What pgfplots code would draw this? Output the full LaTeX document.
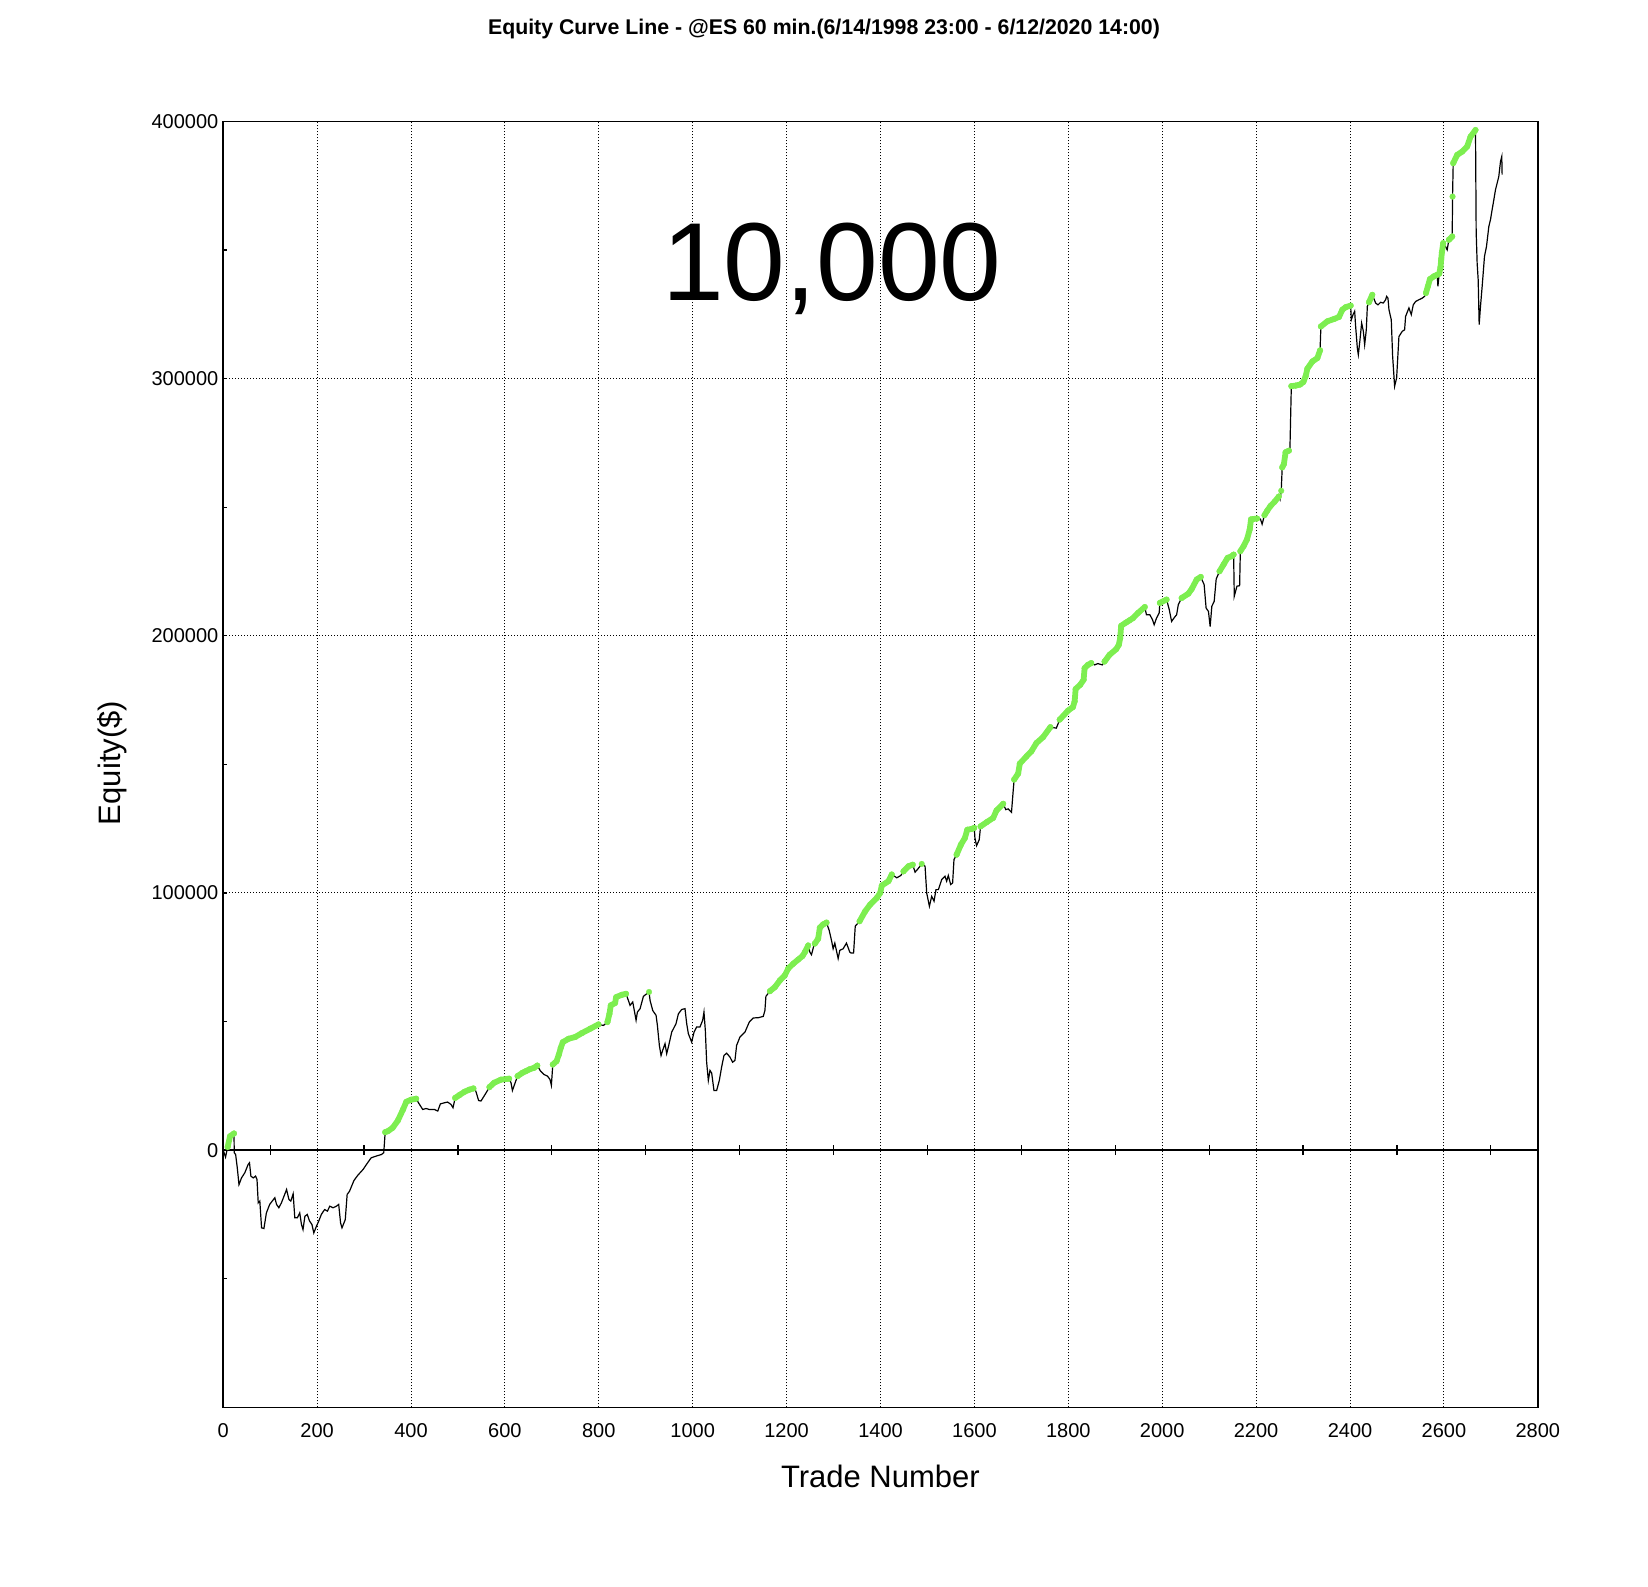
\documentclass[border=0pt]{standalone}
\usepackage{fontspec}
\setmainfont{Liberation Sans}
\usepackage{pgfplots}
\pgfplotsset{compat=1.18}
\definecolor{eqgreen}{RGB}{125,238,80}
\pgfplotsset{grn/.style={draw=eqgreen, color=eqgreen, solid, line width=2.9pt, line cap=round, line join=round,
  mark=*, mark size=1.45pt, mark options={solid, line width=0.1pt, draw=eqgreen, fill=eqgreen}}}
\begin{document}
\begin{tikzpicture}
\path[use as bounding box] (0,0) rectangle (824pt,793pt);
\begin{axis}[
  at={(111.6pt,89.35pt)}, anchor=south west,
  scale only axis, width=657.3pt, height=642.9pt,
  xmin=0, xmax=2800, ymin=-100000, ymax=400000,
  axis line style={line width=0.75pt},
  xtick={0,200,...,2800},
  xticklabels={0,200,400,600,800,1000,1200,1400,1600,1800,2000,2200,2400,2600,2800},
  ytick={-100000,0,100000,200000,300000,400000},
  yticklabels={,0,100000,200000,300000,400000},
  minor ytick={-50000,50000,150000,250000,350000},
  scaled ticks=false,
  xtick style={draw=none},
  ytick style={line width=0.6pt, black},
  ytick pos=left,
  major tick length=2pt, minor tick length=2pt,
  xmajorgrids, ymajorgrids,
  grid style={black, line width=0.5pt, dash pattern=on 0.5pt off 1pt},
  tick label style={font=\fontsize{10}{12}\selectfont},
  xticklabel style={anchor=base, yshift=-15pt},
  yticklabel style={anchor=east, inner sep=0pt, xshift=-2.25pt},
  clip=false,
]
\addplot[black, line width=0.6pt, mark=none] coordinates {
(0,0)(5,-2700)(9.5,1200)(14.5,5400)(23,6500)(23.5,-1000)(26.5,-1700)(30,-6900)(33.6,-13400)(39,-10800)
(46,-8800)(53,-5600)(56,-4900)(59,-10100)(64,-10800)(69,-10100)(72,-11400)(74.6,-20500)(78,-19800)(81.7,-30200)
(86.7,-30500)(92,-24400)(99,-21100)(110,-18500)(113.6,-21100)(118.5,-22400)(124,-20500)(135,-15300)(140,-19200)(144,-19800)
(149,-17000)(152.5,-26300)(158,-26300)(163,-24400)(166.7,-28900)(170,-30900)(174,-25700)(179,-25000)(184,-27600)(189,-28900)
(193,-32200)(198.5,-29600)(203.5,-27600)(209,-25000)(216,-23100)(222,-23700)(227,-21800)(234,-22400)(241,-21800)(246,-21100)
(250,-28300)(253,-30200)(260,-27000)(264,-17200)(269,-16000)(278.5,-11800)(287,-9700)(298,-7500)(305,-5600)(315,-3000)
(326,-2300)(337,-1700)(342,-1000)(345,7000)(351,7400)(361,8700)(372,11500)(383,15800)(390,18800)(400,19600)
(411,20000)(416,18400)(425,15800)(432,16200)(439,15800)(450,15800)(457,15200)(462.6,18000)(471,18400)(478,18700)
(485,17800)(489.5,16500)(494,20300)(503,21400)(514,22700)(524,23500)(533,24000)(538,23000)(544,19300)(549,19100)
(552.5,20100)(560,22300)(567,24500)(577,26200)(591.5,27400)(609,27800)(613,26200)(616,23200)(623,26800)(627,28800)
(637.5,30100)(644.6,30700)(652,31400)(662,32000)(669,32900)(676,30700)(683.5,29400)(690.6,28800)(696,27500)(699,25200)
(702,33300)(710,34600)(715,37200)(719,39800)(723.4,42000)(735.5,43300)(749.7,44000)(763.8,45500)(781.6,47200)(799.3,48900)
(810,48500)(818.4,49800)(822.7,53000)(825.5,56300)(834.7,57200)(836.9,59500)(849,60400)(858,60800)(863,58200)(866.6,56300)
(872.3,57600)(879.4,50500)(882.2,53700)(887.9,55000)(895,59800)(902,60800)(907,61500)(909.2,58200)(914.9,54300)(922,52400)
(924.8,48500)(929,40700)(932.6,36800)(936,38800)(941,41400)(944.6,37500)(948.9,40700)(955.3,45900)(964.5,49200)(969.5,53000)
(976.5,54700)(983.6,55000)(987.2,49200)(990.7,45300)(997.8,42000)(1002.8,45900)(1008.4,47900)(1015.5,47900)(1021.2,50500)(1024,53700)
(1026.9,46600)(1029.7,34200)(1033.3,27100)(1036.8,31000)(1040.4,30000)(1045.3,23200)(1051,23200)(1056.7,27100)(1061.6,32300)(1066.6,36800)
(1072.3,37700)(1079.3,36200)(1085,34200)(1090,34900)(1093.5,40700)(1100.6,44000)(1111.3,45900)(1120.5,49800)(1129,51400)(1139.6,51500)
(1150.2,52000)(1153.8,54300)(1155.9,59800)(1164.4,61800)(1175,63400)(1185.7,66000)(1196.3,68000)(1203.4,70600)(1214.1,72500)(1224.7,74100)
(1233.9,75500)(1238.9,77000)(1246,79600)(1249.5,77000)(1253,76000)(1258,79500)(1260.1,80300)(1267.2,82200)(1270.8,86500)(1277.9,87800)
(1285,88500)(1290.6,85500)(1295.6,81600)(1299.1,78300)(1302.7,80500)(1309.8,74500)(1313.3,77700)(1320.4,78300)(1327.5,80500)(1334.6,77000)
(1337,76700)(1342.7,76700)(1346.2,87100)(1355.4,89000)(1367.4,92900)(1378,95500)(1392.2,98100)(1399.3,100000)(1402.8,102900)(1417,104600)
(1424,107200)(1434.7,105900)(1443.2,106800)(1448.9,108400)(1459.5,110400)(1468.7,111000)(1473.6,108100)(1478.6,109100)(1487.8,111300)(1494.9,110400)
(1498.4,100000)(1504.1,94800)(1509,98700)(1514,96800)(1518.2,101300)(1523.2,101300)(1530.3,105200)(1537.4,106500)(1540.9,104600)(1544.4,106800)
(1549.4,103300)(1553.6,103900)(1556.5,113000)(1562.1,114900)(1571.3,118800)(1579.8,121400)(1584.8,124600)(1594,124900)(1599.7,125300)(1601.1,121400)
(1604.6,118400)(1610.3,120700)(1613.1,125900)(1625.9,127500)(1640,129200)(1647.1,132100)(1661.3,134700)(1666.9,132400)(1671.9,132700)(1679,131400)
(1682.5,139500)(1684.6,144100)(1693.1,146400)(1696.7,150300)(1710.8,153100)(1721.4,155100)(1732.1,158300)(1746.2,160600)(1761.8,164500)(1774.5,164100)
(1781.6,167400)(1799.3,170900)(1809.9,172300)(1813.5,174500)(1815.6,179300)(1825.5,181000)(1832.6,182900)(1834.7,187400)(1841.8,188700)(1848.9,189400)
(1856,188700)(1863,189200)(1872.2,188700)(1877.2,190000)(1887.8,192600)(1902,194800)(1907.6,196500)(1910.5,199100)(1912.6,203900)(1923.2,205200)
(1930.3,206000)(1937.9,206900)(1948.6,208900)(1962.9,211200)(1966.4,208200)(1973.6,208200)(1979.3,206300)(1982.9,204300)(1987.9,206900)(1993.6,208900)
(1995,212800)(2009.3,214100)(2015,210200)(2020,205600)(2025,206900)(2030.7,208200)(2034.3,212100)(2041.4,214700)(2055.7,216400)(2062.8,218200)
(2073.5,221900)(2082.1,222900)(2089.3,219900)(2093.5,210800)(2098.5,209500)(2102.1,203600)(2105.7,211500)(2110.7,213400)(2115,222100)(2122.1,225100)
(2130.7,227700)(2139.2,230300)(2148.5,231000)(2152.1,231600)(2153.5,215400)(2159.2,219300)(2164.9,219500)(2166.4,232900)(2173.5,234900)(2180.6,237500)
(2186.4,241400)(2189.2,245300)(2202.1,245600)(2209.2,245400)(2212.8,243400)(2217.8,246900)(2223.5,248600)(2230.6,250500)(2239.2,252100)(2248.5,254200)
(2251,253000)(2253.5,256400)(2255.6,265500)(2259.2,266800)(2262.8,271400)(2269.9,272000)(2272,272300)(2275,297100)(2284.2,297300)(2293.5,297700)
(2300.6,298700)(2305.6,301000)(2309.2,303900)(2319.9,306700)(2330.5,308000)(2336.2,311000)(2338,320300)(2351.8,322300)(2366,323200)(2376.6,324000)
(2383.7,326800)(2390.8,327800)(2401.4,328400)(2402.8,322900)(2406.4,324900)(2409.9,326200)(2412,320300)(2415.6,311900)(2417.7,309300)(2421.3,315200)
(2424.8,321600)(2428.4,318400)(2431.2,313200)(2434.7,319000)(2436.9,328100)(2440.4,329700)(2447.5,332600)(2454.6,329400)(2459.6,328700)(2465.2,329700)
(2470.9,329400)(2475.9,330700)(2478,332000)(2480.8,331300)(2483,326800)(2487.9,322900)(2490.8,308700)(2495,297000)(2499.3,300300)(2504.2,316400)
(2511.3,318400)(2516.3,319000)(2518.4,324200)(2525.5,327500)(2530.5,324900)(2534.7,328700)(2539.7,330000)(2546.8,330700)(2553.9,331300)(2558.8,332000)
(2561.7,333300)(2565.9,335900)(2570.2,338700)(2578.7,339800)(2585.8,340400)(2587.2,335900)(2590,340800)(2592.8,343400)(2594.3,346500)(2595.7,349100)
(2598.5,352700)(2601.4,352100)(2607,350100)(2610.6,354000)(2617.7,355300)(2618.4,370800)(2619.8,383800)(2628.3,387000)(2639,388300)(2649.6,390300)
(2656.7,394100)(2667.3,396700)(2668.7,357200)(2670.8,344900)(2673,338500)(2675.1,321000)(2677.9,328100)(2681.5,335900)(2686.4,347500)(2690.7,351400)
(2695.7,359200)(2699.2,361800)(2702.7,365700)(2706.3,369500)(2709.8,373400)(2716.9,378600)(2720.5,384400)(2723.3,386400)(2724,379300)
};
\addplot[grn] coordinates {(9.5,1200)(14.5,5400)(23,6500)};
\addplot[grn] coordinates {(345,7000)(351,7400)(361,8700)(372,11500)(383,15800)(390,18800)(400,19600)(411,20000)};
\addplot[grn] coordinates {(494,20300)(503,21400)(514,22700)(524,23500)(533,24000)};
\addplot[grn] coordinates {(567,24500)(577,26200)(591.5,27400)(609,27800)};
\addplot[grn] coordinates {(627,28800)(637.5,30100)(644.6,30700)(652,31400)(662,32000)(669,32900)};
\addplot[grn] coordinates {(702,33300)(710,34600)(715,37200)(719,39800)(723.4,42000)(735.5,43300)(749.7,44000)(763.8,45500)(781.6,47200)(799.3,48900)};
\addplot[grn] coordinates {(818.4,49800)(822.7,53000)(825.5,56300)(834.7,57200)(836.9,59500)(849,60400)(858,60800)};
\addplot[grn] coordinates {(907,61500)};
\addplot[grn] coordinates {(1164.4,61800)(1175,63400)(1185.7,66000)(1196.3,68000)(1203.4,70600)(1214.1,72500)(1224.7,74100)(1233.9,75500)(1238.9,77000)(1246,79600)};
\addplot[grn] coordinates {(1260.1,80300)(1267.2,82200)(1270.8,86500)(1277.9,87800)(1285,88500)};
\addplot[grn] coordinates {(1355.4,89000)(1367.4,92900)(1378,95500)(1392.2,98100)(1399.3,100000)(1402.8,102900)(1417,104600)(1424,107200)};
\addplot[grn] coordinates {(1448.9,108400)(1459.5,110400)(1468.7,111000)};
\addplot[grn] coordinates {(1487.8,111300)};
\addplot[grn] coordinates {(1562.1,114900)(1571.3,118800)(1579.8,121400)(1584.8,124600)(1594,124900)(1599.7,125300)};
\addplot[grn] coordinates {(1613.1,125900)(1625.9,127500)(1640,129200)(1647.1,132100)(1661.3,134700)};
\addplot[grn] coordinates {(1684.6,144100)(1693.1,146400)(1696.7,150300)(1710.8,153100)(1721.4,155100)(1732.1,158300)(1746.2,160600)(1761.8,164500)};
\addplot[grn] coordinates {(1781.6,167400)(1799.3,170900)(1809.9,172300)(1813.5,174500)(1815.6,179300)(1825.5,181000)(1832.6,182900)(1834.7,187400)(1841.8,188700)(1848.9,189400)};
\addplot[grn] coordinates {(1877.2,190000)(1887.8,192600)(1902,194800)(1907.6,196500)(1910.5,199100)(1912.6,203900)(1923.2,205200)(1930.3,206000)(1937.9,206900)(1948.6,208900)(1962.9,211200)};
\addplot[grn] coordinates {(1995,212800)(2009.3,214100)};
\addplot[grn] coordinates {(2041.4,214700)(2055.7,216400)(2062.8,218200)(2073.5,221900)(2082.1,222900)};
\addplot[grn] coordinates {(2122.1,225100)(2130.7,227700)(2139.2,230300)(2148.5,231000)(2152.1,231600)};
\addplot[grn] coordinates {(2166.4,232900)(2173.5,234900)(2180.6,237500)(2186.4,241400)(2189.2,245300)(2202.1,245600)};
\addplot[grn] coordinates {(2217.8,246900)(2223.5,248600)(2230.6,250500)(2239.2,252100)(2248.5,254200)};
\addplot[grn] coordinates {(2253.5,256400)};
\addplot[grn] coordinates {(2255.6,265500)(2259.2,266800)(2262.8,271400)(2269.9,272000)};
\addplot[grn] coordinates {(2275,297100)(2284.2,297300)(2293.5,297700)(2300.6,298700)(2305.6,301000)(2309.2,303900)(2319.9,306700)(2330.5,308000)(2336.2,311000)};
\addplot[grn] coordinates {(2338,320300)(2351.8,322300)(2366,323200)(2376.6,324000)(2383.7,326800)(2390.8,327800)(2401.4,328400)};
\addplot[grn] coordinates {(2440.4,329700)(2447.5,332600)};
\addplot[grn] coordinates {(2561.7,333300)(2565.9,335900)(2570.2,338700)(2578.7,339800)(2585.8,340400)};
\addplot[grn] coordinates {(2590,340800)(2592.8,343400)(2594.3,346500)(2595.7,349100)(2598.5,352700)};
\addplot[grn] coordinates {(2610.6,354000)(2617.7,355300)};
\addplot[grn] coordinates {(2618.4,370800)};
\addplot[grn] coordinates {(2619.8,383800)(2628.3,387000)(2639,388300)(2649.6,390300)(2656.7,394100)(2667.3,396700)};
\draw[black, line width=0.7pt] (axis cs:0,0) -- (axis cs:2800,0);
\pgfplotsinvokeforeach{100,300,500,700,900,1100,1300,1500,1700,1900,2100,2300,2500,2700}{
  \draw[black, line width=0.6pt] ([yshift=-2.5pt]axis cs:#1,0) -- ([yshift=2.5pt]axis cs:#1,0);
}
\end{axis}
\node[anchor=base, font=\fontsize{10.65}{12}\selectfont\bfseries] at (412pt,775.5pt)
  {Equity Curve Line - @ES 60 min.(6/14/1998 23:00 - 6/12/2020 14:00)};
\node[anchor=base, font=\fontsize{55.5}{60}\selectfont] at (416pt,642.65pt) {10,000};
\node[anchor=base, font=\fontsize{15.5}{18}\selectfont] at (440.2pt,49.35pt) {Trade Number};
\node[anchor=base, rotate=90, font=\fontsize{15.5}{18}\selectfont] at (60.35pt,411.5pt) {Equity(\$)};
\end{tikzpicture}
\end{document}
